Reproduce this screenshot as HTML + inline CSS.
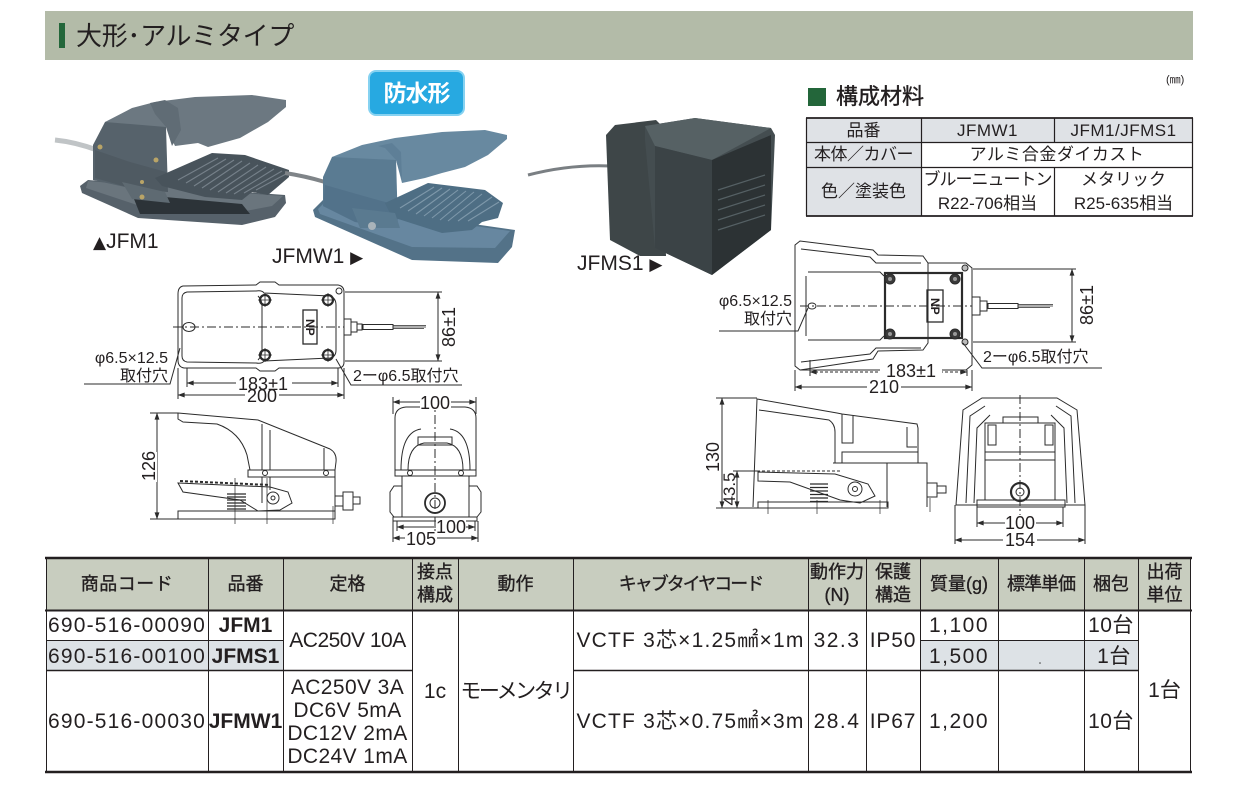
<!DOCTYPE html>
<html><head><meta charset="utf-8">
<style>
*{margin:0;padding:0;box-sizing:border-box}
html,body{width:1243px;height:787px;background:#fff;overflow:hidden}
body{position:relative;font-family:"Liberation Sans","Noto Sans CJK JP",sans-serif;color:#231f20}
.t{position:absolute;white-space:nowrap;line-height:1}
.c{position:absolute;display:flex;align-items:center;justify-content:center;text-align:center;white-space:nowrap;line-height:1}
.h{font-size:18px;-webkit-text-stroke:0.35px #231f20;line-height:23px}
.b{font-size:21px}
.bd{font-size:21px;font-weight:bold}
.m{font-size:17px}
</style></head><body>

<!-- title band -->
<div style="position:absolute;left:45px;top:11px;width:1148px;height:49px;background:#b3bba8"></div>
<div style="position:absolute;left:59px;top:23px;width:6px;height:25px;background:#23663a"></div>
<div class="t" style="left:76px;top:23px;font-size:26px;letter-spacing:-0.3px">大形･アルミタイプ</div>

<!-- badge -->
<div class="c" style="left:368px;top:70px;width:97px;height:46px;background:#27a9e1;border:2px solid #86d2f1;border-radius:8px;color:#fff;font-size:23px;font-weight:bold;letter-spacing:-1px">防水形</div>

<svg width="1243" height="787" style="position:absolute;left:0;top:0" xmlns="http://www.w3.org/2000/svg">
<defs>
<marker id="ar" viewBox="0 0 10 10" refX="9.5" refY="5" markerWidth="8" markerHeight="7" markerUnits="userSpaceOnUse" orient="auto-start-reverse"><path d="M0,1.5 L10,5 L0,8.5 Z" fill="#2b2b2b"/></marker>
</defs>

<!-- ===== Photos ===== -->
<!-- JFM1 -->
<path d="M55,140 Q75,142 97,150" stroke="#c0c4c6" stroke-width="5" fill="none"/>
<polygon points="80,186 88,180 122,183 285,195 286,203 275,217 242,225 138,218 82,193" fill="#56616a"/>
<polygon points="88,181 122,184 283,196 272,206 240,212 140,206 86,188" fill="#6a757d"/>
<polygon points="132,194 242,204 250,214 140,214" fill="#2c3338"/>
<polygon points="93,145 105,122 155,114 166,127 168,192 130,188 93,180" fill="#56626b"/>
<polygon points="95,150 130,162 166,172 168,192 130,188 95,178" fill="#4f5a62"/>
<polygon points="105,122 132,108 155,102 195,97 252,95 286,100 286,107 268,122 240,138 208,147 198,143 175,146 166,127" fill="#6c7881"/>
<polygon points="150,103 165,100 178,108 181,130 172,146 166,127 155,114" fill="#606c75"/>
<polygon points="155,178 212,153 245,155 289,170 289,177 268,195 252,192 242,200 205,197 162,186" fill="#48535b"/>
<g stroke="#76818a" stroke-width="1.1">
<line x1="178" y1="180" x2="218" y2="158"/><line x1="186" y1="183" x2="226" y2="159"/><line x1="194" y1="186" x2="234" y2="160"/><line x1="202" y1="188" x2="242" y2="161"/><line x1="210" y1="190" x2="250" y2="163"/><line x1="218" y1="192" x2="258" y2="165"/><line x1="226" y1="193" x2="266" y2="167"/><line x1="234" y1="194" x2="274" y2="169"/><line x1="244" y1="193" x2="282" y2="171"/><line x1="256" y1="190" x2="286" y2="174"/>
</g>
<polygon points="122,182 165,192 170,203 132,199" fill="#5e6a72"/>
<circle cx="100" cy="147" r="2.5" fill="#b9a467"/><circle cx="156" cy="160" r="2.5" fill="#b9a467"/><circle cx="142" cy="197" r="2.5" fill="#b9a467"/><circle cx="142" cy="182" r="2" fill="#b9a467"/>

<!-- JFMW1 -->
<path d="M285,173 Q305,176 325,182" stroke="#7f8488" stroke-width="4" fill="none"/>
<polygon points="313,210 325,198 362,208 515,230 512,247 498,263 412,260 315,217" fill="#537288"/>
<polygon points="318,209 327,200 362,210 510,231 495,248 412,247 320,214" fill="#6787a0"/>
<polygon points="323,177 332,157 385,147 396,158 398,228 355,222 323,206" fill="#5a7b92"/>
<polygon points="325,185 360,195 396,205 398,228 355,222 323,206" fill="#52728a"/>
<polygon points="332,157 362,145 395,138 442,132 485,130 507,135 507,139 488,155 465,167 442,173 425,178 402,183 396,160" fill="#6889a0"/>
<polygon points="378,146 392,143 401,152 402,180 396,160 385,148" fill="#5e7f97"/>
<polygon points="385,203 428,183 485,190 503,203 498,218 482,222 472,230 442,233 392,217" fill="#4e6e84"/>
<g stroke="#7e98aa" stroke-width="1.1">
<line x1="400" y1="208" x2="434" y2="187"/><line x1="408" y1="211" x2="442" y2="188"/><line x1="416" y1="214" x2="450" y2="189"/><line x1="424" y1="216" x2="458" y2="190"/><line x1="432" y1="218" x2="466" y2="191"/><line x1="440" y1="220" x2="474" y2="192"/><line x1="448" y1="221" x2="482" y2="194"/><line x1="458" y1="221" x2="492" y2="197"/><line x1="468" y1="221" x2="499" y2="202"/>
</g>
<polygon points="352,208 395,213 400,228 360,228" fill="#5a7a90"/>
<circle cx="372" cy="226" r="4" fill="#a9b3ba"/>

<!-- JFMS1 -->
<path d="M528,175 Q570,164 612,166" stroke="#7a7f83" stroke-width="3" fill="none"/>
<polygon points="606,135 615,125 656,120 662,126 666,256 640,256 610,240" fill="#3e4648"/>
<polygon points="645,126 695,118 771,128 775,135 771,230 712,275 655,248 645,140" fill="#444d50"/>
<polygon points="645,126 695,118 771,128 712,160 655,146" fill="#566164"/>
<polygon points="655,146 712,160 712,275 655,248" fill="#3b4346"/>
<polygon points="712,160 771,135 771,230 712,275" fill="#2c3234"/>
<g stroke="#556064" stroke-width="1.2"><line x1="718" y1="190" x2="765" y2="175"/><line x1="718" y1="200" x2="765" y2="185"/><line x1="718" y1="210" x2="765" y2="195"/><line x1="718" y1="220" x2="765" y2="205"/><line x1="718" y1="230" x2="765" y2="215"/></g>

<!-- photo labels -->
<g font-family="Liberation Sans, DejaVu Sans, sans-serif" font-size="21" fill="#231f20">
<text x="93" y="248"><tspan font-family="DejaVu Sans" font-size="17">▲</tspan>JFM1</text>
<text x="272" y="263">JFMW1 <tspan font-family="DejaVu Sans" font-size="17">▶</tspan></text>
<text x="577" y="270">JFMS1 <tspan font-family="DejaVu Sans" font-size="17">▶</tspan></text>
</g>

<!-- ===== Left drawings (JFM1/JFMW1) ===== -->
<g fill="none" stroke="#2b2b2b" stroke-width="1">
<!-- top view -->
<path d="M183,286 L256,285 L260,282 L275,282 L279,285 L338,285 Q344,286 344,292 L344,362 Q344,368 338,368 L279,368 L275,371 L260,371 L256,368 L184,368 Q178,367 178,360 L178,294 Q178,287 183,286 Z"/>
<path d="M187,292 L256,291 Q262,290 264,293 L330,296 Q336,298 336,305 L336,350 Q336,357 330,358 L264,361 Q262,364 256,363 L187,362 Q182,361 182,356 L182,298 Q182,293 187,292 Z"/>
<path d="M258,296 Q262,300 262,306 L262,350 Q262,356 258,360" />
<ellipse cx="189" cy="327" rx="6" ry="4.5"/>
<rect x="303" y="310" width="14" height="34" stroke-width="1.3"/>
<path d="M173,327 H346" stroke-dasharray="9,3,2,3"/>
<rect x="344" y="319" width="7" height="16" fill="#fff"/>
<rect x="351" y="322" width="6" height="10"/>
<rect x="357" y="324" width="5" height="6"/>
<rect x="363" y="324.5" width="30" height="5"/>
<path d="M393,325.5 H426 M393,327 H426 M393,328.5 H424" stroke-width="0.8"/>
<circle cx="339" cy="291" r="3"/>
<g stroke-width="2.2"><circle cx="265" cy="300" r="5"/><circle cx="328" cy="300" r="5"/><circle cx="265" cy="355" r="5"/><circle cx="328" cy="355" r="5"/></g>
<path d="M258,300 H272 M265,293 V307 M321,300 H335 M328,293 V307 M258,355 H272 M265,348 V362 M321,355 H335 M328,348 V362" stroke-width="0.8"/>
<!-- dims -->
<path d="M345,292 H442 M345,361 H442"/>
<path d="M438,292 V361" marker-start="url(#ar)" marker-end="url(#ar)"/>
<path d="M187,368 V387 M338,368 V387 M178,368 V399 M344,368 V399"/>
<path d="M187,383 H338" marker-start="url(#ar)" marker-end="url(#ar)"/>
<path d="M178,395 H344" marker-start="url(#ar)" marker-end="url(#ar)"/>
<path d="M84,384 H170 L180,348"/>
<path d="M336,359 L351,385 H462"/>

<!-- side view -->
<path d="M178,413 L258,420 L330,449 Q337,453 336,462 L335,470"/>
<path d="M178,413 V419 L183,422 L217,424 Q240,432 247,455 L250,470"/>
<path d="M262,424 V470 M270,430 V470 M324,448 V470"/>
<rect x="248" y="470" width="87" height="7"/>
<circle cx="265" cy="473" r="2.5"/><circle cx="326" cy="473" r="2.5"/>
<path d="M262,477 V503 M335,477 V511 M270,477 V490"/>
<path d="M178,483 L270,487 L288,492 L292,503 L280,510 L258,511 L240,500 L183,492 Z"/>
<path d="M180,481 L270,485" stroke-dasharray="3,2" stroke-width="2"/>
<circle cx="273" cy="498" r="6"/><circle cx="273" cy="498" r="2"/>
<path d="M227,494 H246 M227,497 H246 M227,500 H246 M227,503 H246 M227,506 H246 M227,509 H246" stroke-width="1.3"/>
<rect x="178" y="511" width="157" height="8"/>
<rect x="335" y="496" width="8" height="10"/>
<rect x="343" y="492" width="10" height="18"/>
<rect x="353" y="497" width="7" height="7"/>
<path d="M235,478 V524 M267,478 V524 M333,506 V524" stroke-width="0.7"/>
<path d="M150,413 H178 M150,519 H178"/>
<path d="M157,413 V519" marker-start="url(#ar)" marker-end="url(#ar)"/>

<!-- front view -->
<path d="M395,472 L395,418 Q395,408 406,407 L465,407 Q476,408 476,418 L476,472"/>
<path d="M401,470 Q401,432 421,429 M470,470 Q470,432 450,429"/>
<path d="M408,470 Q408,446 424,443 L447,443 Q463,446 463,470"/>
<rect x="418" y="437" width="34" height="8"/>
<rect x="395" y="470" width="81" height="6"/>
<circle cx="410" cy="473" r="2.5"/><circle cx="461" cy="473" r="2.5"/>
<rect x="402" y="476" width="67" height="41"/>
<path d="M402,486 H394 L390,492 V512 L394,517 M469,486 H477 L481,492 V512 L477,517"/>
<circle cx="435" cy="503" r="10" stroke-width="1.8"/><circle cx="435" cy="503" r="5"/>
<rect x="393" y="517" width="84" height="4"/>
<path d="M435,398 V542" stroke-dasharray="9,3,2,3"/>
<path d="M393,397 V414 M476,397 V414"/>
<path d="M393,402 H476" marker-start="url(#ar)" marker-end="url(#ar)"/>
<path d="M397,521 V531 M475,521 V531 M393,521 V542 M478,521 V542"/>
<path d="M397,527 H475" marker-start="url(#ar)" marker-end="url(#ar)"/>
<path d="M393,538 H478" marker-start="url(#ar)" marker-end="url(#ar)"/>

<!-- ===== Right drawings (JFMS1) ===== -->
<path d="M795,245 L800,241 L873,250 L878,255 L923,256 L928,263 L928,343 L923,350 L878,351 L873,359 L800,370 L795,366 Z"/>
<path d="M928,263 H966 L972,268 V365 L966,370 H800"/>
<path d="M801,249 L870,257 L876,263 L921,263 M801,362 L870,354 L876,348 L921,348"/>
<path d="M808,272 L880,272 L884,276 M808,340 L880,340 L884,336 M806,276 V336"/>
<rect x="885" y="273" width="77" height="65" stroke-width="2.2"/>
<g fill="#3a3a3a" stroke-width="1"><circle cx="890" cy="279" r="5"/><circle cx="955" cy="279" r="5"/><circle cx="890" cy="334" r="5"/><circle cx="955" cy="334" r="5"/></g>
<g fill="#999" stroke="none"><circle cx="890" cy="279" r="2"/><circle cx="955" cy="279" r="2"/><circle cx="890" cy="334" r="2"/><circle cx="955" cy="334" r="2"/></g>
<circle cx="965" cy="268" r="3" fill="#bbb"/><circle cx="965" cy="342" r="3" fill="#bbb"/>
<rect x="927" y="290" width="16" height="32" stroke-width="1.3"/>
<ellipse cx="812" cy="306" rx="4" ry="3"/>
<path d="M800,306 H975" stroke-dasharray="9,3,2,3"/>
<rect x="972" y="297" width="8" height="18" fill="#fff"/>
<rect x="980" y="301" width="7" height="10"/>
<rect x="988" y="303.5" width="30" height="5"/>
<path d="M1018,304.5 H1053 M1018,306 H1053 M1018,307.5 H1050" stroke-width="0.8"/>
<path d="M973,269 H1076 M973,342 H1076"/>
<path d="M1072,269 V342" marker-start="url(#ar)" marker-end="url(#ar)"/>
<path d="M719,331 H798 L808,308"/>
<path d="M963,343 L982,368 H1102"/>
<path d="M810,360 V376 M967,370 V376"/>
<path d="M810,372 H967" stroke-dasharray="3,2" marker-start="url(#ar)" marker-end="url(#ar)"/>
<path d="M795,370 V391 M972,370 V391"/>
<path d="M795,387 H972" marker-start="url(#ar)" marker-end="url(#ar)"/>

<!-- side view -->
<path d="M753,507 L757,399 L837,413 L842,414 L917,424 L918,428 L918,452"/>
<path d="M759,410 L829,420 Q835,424 835,432 L835,463"/>
<path d="M842,414 V443 H853 V416 M907,427 V447 H917"/>
<rect x="842" y="452" width="76" height="11"/>
<path d="M833,463 H927 V507 M887,463 V507"/>
<path d="M737,471 H840" stroke-dasharray="3,2"/>
<path d="M758,472 L835,474 L868,484 L875,496 L860,503 L840,500 L790,482 L758,481 Z"/>
<circle cx="855" cy="489" r="7"/><circle cx="855" cy="489" r="2.5"/>
<path d="M810,484 H828 M810,487.5 H828 M810,491 H828 M810,494.5 H828 M810,498 H828 M810,501.5 H828" stroke-width="1.3"/>
<rect x="758" y="502" width="130" height="6"/>
<rect x="927" y="483" width="10" height="14"/>
<rect x="937" y="486" width="9" height="7"/>
<path d="M768,500 V514 M817,500 V514 M880,500 V514 M930,498 V512" stroke-width="0.7"/>
<path d="M716,398 H757 M716,508 H758 M733,471 H758"/>
<path d="M722,398 V508" marker-start="url(#ar)" marker-end="url(#ar)"/>
<path d="M737,471 V508" marker-start="url(#ar)" marker-end="url(#ar)"/>

<!-- front view -->
<path d="M956,505 L963,410 L982,398 L1057,398 L1077,410 L1085,505 Z"/>
<path d="M966,503 L970,416 L985,406 M1075,503 L1071,416 L1056,406"/>
<path d="M974,503 L977,428 L990,415 M1067,503 L1064,428 L1051,415"/>
<rect x="985" y="423" width="70" height="77"/>
<rect x="1003" y="417" width="35" height="6"/>
<path d="M985,452 H1055 M985,460 H1055"/>
<rect x="988" y="425" width="8" height="20"/><rect x="1045" y="425" width="8" height="20"/>
<rect x="977" y="500" width="88" height="7"/>
<circle cx="1020" cy="492" r="9" stroke-width="2.2"/><circle cx="1020" cy="492" r="4"/>
<path d="M1020,395 V522" stroke-dasharray="9,3,2,3"/>
<path d="M977,507 V527 M1063,507 V527 M955,505 V544 M1085,505 V544"/>
<path d="M977,523 H1063" marker-start="url(#ar)" marker-end="url(#ar)"/>
<path d="M955,540 H1085" marker-start="url(#ar)" marker-end="url(#ar)"/>
</g>

<!-- dim text backgrounds -->
<g fill="#fff">
<rect x="236" y="375" width="56" height="16"/>
<rect x="245" y="388" width="34" height="15"/>
<rect x="420" y="395" width="31" height="15"/>
<rect x="436" y="520" width="30" height="14"/>
<rect x="405" y="531" width="32" height="14"/>
<rect x="880" y="363" width="62" height="16"/>
<rect x="867" y="379" width="34" height="16"/>
<rect x="1005" y="515" width="31" height="16"/>
<rect x="1003" y="532" width="34" height="16"/>
<rect x="441" y="306" width="16" height="42"/>
<rect x="1079" y="285" width="16" height="42"/>
<rect x="141" y="452" width="16" height="30"/>
<rect x="705" y="441" width="16" height="32"/>
</g>

<!-- dim text -->
<g font-family="Liberation Sans, Noto Sans CJK JP, sans-serif" font-size="18" fill="#231f20">
<text x="263" y="390" text-anchor="middle">183±1</text>
<text x="262" y="402" text-anchor="middle">200</text>
<text x="435" y="409" text-anchor="middle">100</text>
<text x="451" y="533" text-anchor="middle">100</text>
<text x="421" y="545" text-anchor="middle">105</text>
<text transform="translate(455,327) rotate(-90)" text-anchor="middle">86±1</text>
<text transform="translate(155,466) rotate(-90)" text-anchor="middle">126</text>
<text x="911" y="377" text-anchor="middle">183±1</text>
<text x="884" y="393" text-anchor="middle">210</text>
<text x="1020" y="529" text-anchor="middle">100</text>
<text x="1020" y="546" text-anchor="middle">154</text>
<text transform="translate(1093,305) rotate(-90)" text-anchor="middle">86±1</text>
<text transform="translate(719,457) rotate(-90)" text-anchor="middle">130</text>
<text transform="translate(735,489) rotate(-90)" text-anchor="middle" font-size="17">43.5</text>
</g>
<g font-family="Liberation Sans, Noto Sans CJK JP, sans-serif" font-size="16" fill="#231f20">
<text x="168" y="363" text-anchor="end">φ6.5×12.5</text>
<text x="168" y="381" text-anchor="end">取付穴</text>
<text x="353" y="381">2ーφ6.5取付穴</text>
<text x="792" y="306" text-anchor="end">φ6.5×12.5</text>
<text x="792" y="324" text-anchor="end">取付穴</text>
<text x="983" y="362">2ーφ6.5取付穴</text>
</g>
<g font-family="Liberation Sans, sans-serif" font-size="12" font-weight="bold" fill="#231f20">
<text transform="translate(306,319) rotate(90)">NP</text>
<text transform="translate(931,298) rotate(90)">NP</text>
</g>

<!-- ===== materials table ===== -->
<rect x="808" y="88" width="18" height="18" fill="#23663a"/>
<rect x="806" y="118" width="387" height="24" fill="#dfe2e6"/>
<rect x="806" y="142" width="115" height="74" fill="#dfe2e6"/>
<g stroke="#231f20" fill="none">
<path d="M806,118 H1193 M806,216 H1193" stroke-width="1.8"/>
<path d="M806,142.5 H1193 M806,167.5 H1193" stroke-width="1.2"/>
<path d="M806.5,118 V216 M921.5,118 V216 M1192.5,118 V216" stroke-width="1.2"/>
<path d="M1054.5,118 V142 M1054.5,167 V216" stroke-width="1.2"/>
</g>

<!-- ===== bottom table ===== -->
<rect x="46" y="558" width="1145" height="52" fill="#c8cdbf"/>
<rect x="46" y="641" width="237" height="29" fill="#dde2e6"/>
<rect x="920" y="641" width="218" height="29" fill="#dde2e6"/>
<g stroke="#231f20" fill="none">
<path d="M45,558 H1192 M45,772 H1192" stroke-width="2.4"/>
<path d="M45,610.5 H1192" stroke-width="2"/>
<path d="M46,640.5 H283 M920,640.5 H1138" stroke-width="1"/>
<path d="M46,670.5 H412 M573,670.5 H1138" stroke-width="1.6"/>
<path d="M46.5,558 V772 M208.5,558 V772 M283.5,558 V772 M412.5,558 V772 M458.5,558 V772 M573.5,558 V772 M808.5,558 V772 M866.5,558 V772 M920.5,558 V772 M998.5,558 V772 M1084.5,558 V772 M1138.5,558 V772 M1190.5,558 V772" stroke-width="1"/>
</g>
<circle cx="1040" cy="663" r="0.8" fill="#444"/>
</svg>

<!-- materials text -->
<div class="t" style="left:836px;top:86px;font-size:22px;-webkit-text-stroke:0.4px #231f20">構成材料</div>
<div class="t" style="left:1166px;top:75px;font-size:11px">(㎜)</div>
<div class="c m" style="left:806px;top:118px;width:115px;height:24px">品番</div>
<div class="c m" style="left:921px;top:118px;width:133px;height:24px;letter-spacing:0.5px">JFMW1</div>
<div class="c m" style="left:1054px;top:118px;width:139px;height:24px;letter-spacing:0.5px">JFM1/JFMS1</div>
<div class="c m" style="left:806px;top:142px;width:115px;height:25px;letter-spacing:-0.5px">本体／カバー</div>
<div class="c m" style="left:921px;top:142px;width:272px;height:25px;letter-spacing:0.5px">アルミ合金ダイカスト</div>
<div class="c m" style="left:806px;top:167px;width:115px;height:49px">色／塗装色</div>
<div class="c m" style="left:921px;top:167px;width:133px;height:49px;flex-direction:column;line-height:24px"><span style="letter-spacing:-1px">ブルーニュートン</span><span>R22-706相当</span></div>
<div class="c m" style="left:1054px;top:167px;width:139px;height:49px;flex-direction:column;line-height:24px"><span>メタリック</span><span>R25-635相当</span></div>

<!-- bottom table header -->
<div class="c h" style="left:46px;top:558px;width:162px;height:52px;letter-spacing:0.5px">商品コード</div>
<div class="c h" style="left:208px;top:558px;width:75px;height:52px">品番</div>
<div class="c h" style="left:283px;top:558px;width:129px;height:52px">定格</div>
<div class="c h" style="left:412px;top:558px;width:46px;height:52px">接点<br>構成</div>
<div class="c h" style="left:458px;top:558px;width:115px;height:52px">動作</div>
<div class="c h" style="left:573px;top:558px;width:235px;height:52px;letter-spacing:-2px">キャブタイヤコード</div>
<div class="c h" style="left:808px;top:558px;width:58px;height:52px">動作力<br>(N)</div>
<div class="c h" style="left:866px;top:558px;width:54px;height:52px">保護<br>構造</div>
<div class="c h" style="left:920px;top:558px;width:78px;height:52px">質量(g)</div>
<div class="c h" style="left:998px;top:558px;width:86px;height:52px;letter-spacing:-1px">標準単価</div>
<div class="c h" style="left:1084px;top:558px;width:54px;height:52px">梱包</div>
<div class="c h" style="left:1138px;top:558px;width:53px;height:52px">出荷<br>単位</div>

<!-- bottom table body -->
<div class="c b" style="left:46px;top:610px;width:162px;height:31px;letter-spacing:1.2px">690-516-00090</div>
<div class="c b" style="left:46px;top:641px;width:162px;height:30px;letter-spacing:1.2px">690-516-00100</div>
<div class="c b" style="left:46px;top:671px;width:162px;height:101px;letter-spacing:1.2px">690-516-00030</div>
<div class="c bd" style="left:208px;top:610px;width:75px;height:31px">JFM1</div>
<div class="c bd" style="left:208px;top:641px;width:75px;height:30px">JFMS1</div>
<div class="c bd" style="left:208px;top:671px;width:75px;height:101px">JFMW1</div>
<div class="c b" style="left:283px;top:610px;width:129px;height:61px;letter-spacing:-0.5px">AC250V 10A</div>
<div class="c b" style="left:283px;top:671px;width:129px;height:101px;flex-direction:column;line-height:23px;letter-spacing:0.4px"><span>AC250V 3A</span><span>DC6V 5mA</span><span>DC12V 2mA</span><span>DC24V 1mA</span></div>
<div class="c b" style="left:412px;top:610px;width:46px;height:162px">1c</div>
<div class="c b" style="left:458px;top:610px;width:115px;height:162px;letter-spacing:-2.5px">モーメンタリ</div>
<div class="c b" style="left:573px;top:610px;width:235px;height:61px;letter-spacing:1.2px">VCTF 3芯×1.25㎟×1m</div>
<div class="c b" style="left:573px;top:671px;width:235px;height:101px;letter-spacing:1.2px">VCTF 3芯×0.75㎟×3m</div>
<div class="c b" style="left:808px;top:610px;width:58px;height:61px;letter-spacing:1.5px">32.3</div>
<div class="c b" style="left:808px;top:671px;width:58px;height:101px;letter-spacing:1.5px">28.4</div>
<div class="c b" style="left:866px;top:610px;width:54px;height:61px;letter-spacing:0.8px">IP50</div>
<div class="c b" style="left:866px;top:671px;width:54px;height:101px;letter-spacing:0.8px">IP67</div>
<div class="c b" style="left:920px;top:610px;width:78px;height:31px;letter-spacing:1.5px">1,100</div>
<div class="c b" style="left:920px;top:641px;width:78px;height:30px;letter-spacing:1.5px">1,500</div>
<div class="c b" style="left:920px;top:671px;width:78px;height:101px;letter-spacing:1.5px">1,200</div>
<div class="c b" style="left:1084px;top:610px;width:54px;height:31px;letter-spacing:0.5px">10台</div>
<div class="c b" style="left:1084px;top:641px;width:54px;height:30px;letter-spacing:0.5px;padding-left:6px">1台</div>
<div class="c b" style="left:1084px;top:671px;width:54px;height:101px;letter-spacing:0.5px">10台</div>
<div class="c b" style="left:1138px;top:610px;width:53px;height:162px;padding-bottom:2px">1台</div>

</body></html>
